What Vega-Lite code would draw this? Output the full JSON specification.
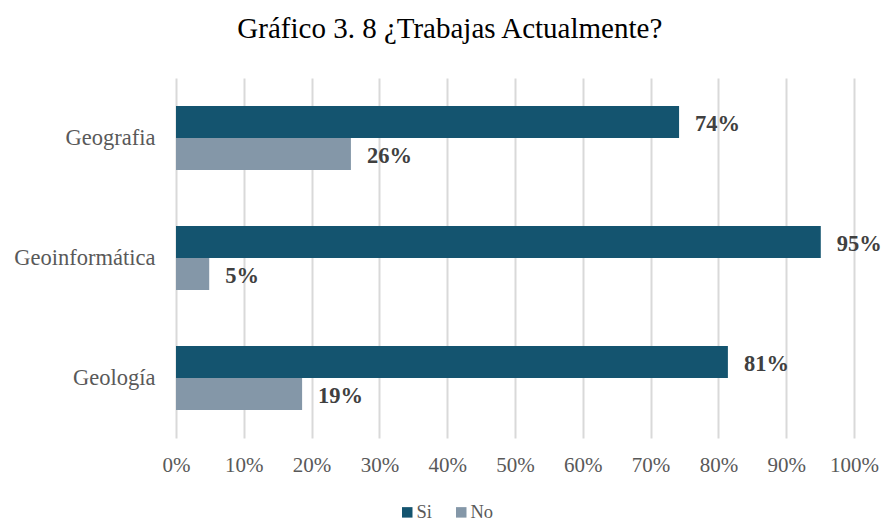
{
  "$schema": "https://vega.github.io/schema/vega-lite/v6.json",
  "width": 678,
  "height": 360,
  "autosize": {"type": "none"},
  "padding": {"left": 176, "top": 78, "right": 30, "bottom": 83},
  "background": "white",
  "config": {
    "view": {"stroke": null},
    "font": "Liberation Serif"
  },
  "title": {
    "text": "Gráfico 3. 8 ¿Trabajas Actualmente?",
    "font": "Liberation Serif",
    "fontSize": 29,
    "fontWeight": "normal",
    "color": "#000000",
    "anchor": "middle",
    "frame": "bounds",
    "offset": 34,
    "dx": 2
  },
  "data": {
    "values": [
      {"carrera": "Geografia", "respuesta": "Si", "valor": 0.742},
      {"carrera": "Geografia", "respuesta": "No", "valor": 0.258},
      {"carrera": "Geoinformática", "respuesta": "Si", "valor": 0.951},
      {"carrera": "Geoinformática", "respuesta": "No", "valor": 0.049},
      {"carrera": "Geología ", "respuesta": "Si", "valor": 0.814},
      {"carrera": "Geología ", "respuesta": "No", "valor": 0.186}
    ]
  },
  "encoding": {
    "y": {
      "field": "carrera",
      "type": "nominal",
      "sort": ["Geografia", "Geoinformática", "Geología "],
      "scale": {"paddingInner": 0.4667, "paddingOuter": 0.2333},
      "axis": {
        "title": null,
        "domain": false,
        "ticks": false,
        "labelFont": "Liberation Serif",
        "labelFontSize": 22.5,
        "labelColor": "#595959",
        "labelPadding": 21
      }
    },
    "yOffset": {
      "field": "respuesta",
      "type": "nominal",
      "sort": ["Si", "No"]
    },
    "x": {
      "field": "valor",
      "type": "quantitative",
      "scale": {"domain": [0, 1], "nice": false},
      "axis": {
        "title": null,
        "format": ".0%",
        "values": [0, 0.1, 0.2, 0.3, 0.4, 0.5, 0.6, 0.7, 0.8, 0.9, 1],
        "domain": false,
        "ticks": false,
        "grid": true,
        "gridColor": "#d9d9d9",
        "gridWidth": 2,
        "labelFont": "Liberation Serif",
        "labelFontSize": 21,
        "labelColor": "#595959",
        "labelPadding": 16,
        "labelOverlap": false,
        "labelFlush": false,
        "labelBound": false
      }
    }
  },
  "layer": [
    {
      "mark": {"type": "bar"},
      "encoding": {
        "color": {
          "field": "respuesta",
          "type": "nominal",
          "sort": ["Si", "No"],
          "scale": {"domain": ["Si", "No"], "range": ["#14546f", "#8497a8"]},
          "legend": {
            "title": null,
            "orient": "none",
            "direction": "horizontal",
            "legendX": 222,
            "legendY": 425,
            "padding": 0,
            "symbolType": "square",
            "symbolSize": 110,
            "symbolStrokeWidth": 0,
            "labelFont": "Liberation Serif",
            "labelFontSize": 18.5,
            "labelColor": "#595959",
            "labelOffset": 0,
            "columnPadding": 20
          }
        }
      }
    },
    {
      "mark": {
        "type": "text",
        "align": "left",
        "baseline": "middle",
        "dx": 16,
        "dy": 2,
        "font": "Liberation Serif",
        "fontSize": 22.5,
        "fontWeight": "bold",
        "color": "#404040"
      },
      "encoding": {
        "text": {"field": "valor", "type": "quantitative", "format": ".0%"}
      }
    }
  ]
}
